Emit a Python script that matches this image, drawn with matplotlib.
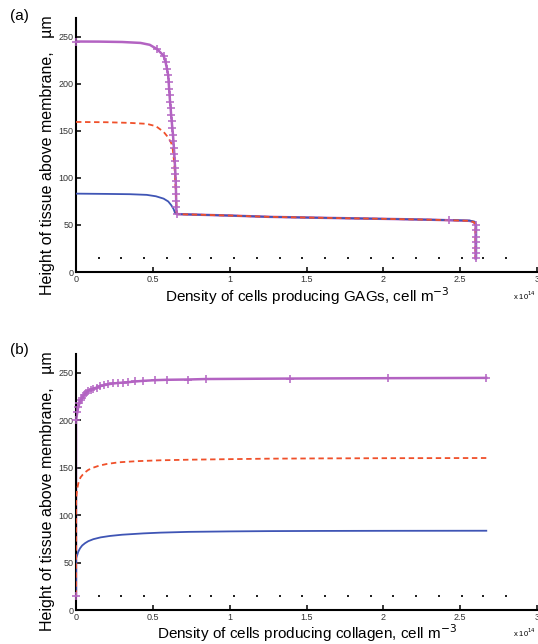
import matplotlib
matplotlib.use("Agg")
import matplotlib.pyplot as plt

plt.rcParams['font.family'] = ['Liberation Sans', 'DejaVu Sans']

# ---------------- data (x in units of 1e14 cell m^-3, y in um) ----------------
# Panel (a): GAG-producing cells
a_mag_x = [0, 0.15, 0.30, 0.42, 0.48, 0.527, 0.57, 0.583, 0.592, 0.600, 0.603, 0.606,
           0.609, 0.612, 0.616, 0.619, 0.623, 0.627, 0.631, 0.634, 0.637, 0.640, 0.642,
           0.645, 0.647, 0.649, 0.650, 0.651, 0.652, 0.653, 0.655, 0.66, 1.0, 1.26,
           1.6, 2.0, 2.3, 2.56, 2.59, 2.60, 2.60]
a_mag_y = [245, 244.9, 244.5, 243.5, 241.5, 237, 230, 223, 216, 209, 202, 195,
           188, 181, 174, 167, 160, 153, 146, 139, 132, 125, 118,
           111, 104, 97, 90, 83, 76, 69, 62, 61.5, 60.0, 58.6,
           57.6, 56.5, 55.6, 54.4, 53, 50, 14.5]
a_mk_x = [0, 0.527, 0.57, 0.583, 0.592, 0.600, 0.603, 0.606, 0.609, 0.612, 0.616,
          0.619, 0.623, 0.627, 0.631, 0.634, 0.637, 0.640, 0.642, 0.645, 0.647,
          0.649, 0.650, 0.651, 0.652, 0.653, 0.655, 2.43, 2.60, 2.60, 2.60, 2.60,
          2.60, 2.60, 2.60]
a_mk_y = [245, 237, 230, 223, 216, 209, 202, 195, 188, 181, 174,
          167, 160, 153, 146, 139, 132, 125, 118, 111, 104,
          97, 90, 83, 76, 69, 62, 55, 49.8, 44.5, 37.4, 32,
          25, 19.8, 14.5]
a_red_x = [0, 0.2, 0.35, 0.46, 0.52, 0.57, 0.60, 0.62, 0.63, 0.64, 0.65, 0.655,
           0.66, 1.0, 1.26, 1.6, 2.0, 2.3, 2.56, 2.59, 2.60, 2.60]
a_red_y = [159.5, 159.2, 158.5, 157.5, 155, 149, 143, 137, 130, 115, 85, 62,
           61.5, 60.0, 58.6, 57.6, 56.5, 55.6, 54.4, 53, 50, 14.5]
a_blue_x = [0, 0.2, 0.35, 0.46, 0.52, 0.57, 0.60, 0.62, 0.635, 0.645, 0.66, 1.0,
            1.26, 1.6, 2.0, 2.3, 2.56, 2.595, 2.605, 2.605]
a_blue_y = [83.3, 83.0, 82.7, 82.0, 80.5, 78, 75, 71, 67, 62.5, 61.5, 60.0,
            58.6, 57.6, 56.5, 55.6, 54.7, 53.5, 50, 14.5]

# Panel (b): collagen-producing cells
b_mag_x = [0, 0, 0.0087, 0.015, 0.022, 0.030, 0.041, 0.052, 0.065, 0.080, 0.095,
           0.113, 0.134, 0.156, 0.182, 0.210, 0.243, 0.275, 0.308, 0.340, 0.384,
           0.438, 0.514, 0.590, 0.731, 0.844, 1.39, 2.03, 2.67]
b_mag_y = [15, 200, 209, 214.3, 217.8, 221.3, 223.7, 226.6, 229, 231.1, 232.5,
           233.6, 234.6, 236, 237.1, 238.1, 238.9, 239.5, 239.9, 240.3, 241,
           241.7, 242.4, 242.8, 243.1, 243.6, 244.1, 244.5, 244.8]
b_red_x = [0, 0, 0.002, 0.004, 0.008, 0.015, 0.022, 0.03, 0.045, 0.06, 0.08, 0.11,
           0.15, 0.2, 0.28, 0.4, 0.55, 0.73, 1.0, 1.25, 1.6, 2.0, 2.67]
b_red_y = [15, 112, 118, 122.5, 128, 133.5, 137, 140, 143, 145.3, 147.8, 150,
           152.2, 154, 155.8, 157, 157.9, 158.5, 159.1, 159.6, 159.9, 160.1, 160.3]
b_blue_x = [0, 0, 0.004, 0.009, 0.015, 0.026, 0.04, 0.059, 0.08, 0.113, 0.16, 0.221,
            0.3, 0.438, 0.55, 0.731, 1.0, 1.25, 1.6, 2.0, 2.67]
b_blue_y = [15, 54.4, 56.3, 58.5, 61.5, 65, 68, 70.5, 72.6, 74.7, 76.6, 78.1,
            79.4, 80.8, 81.6, 82.4, 82.9, 83.2, 83.4, 83.5, 83.6]

# reference dotted level
dot_x = [0.15, 0.29, 0.44, 0.59, 0.74, 0.88, 1.03, 1.18, 1.33, 1.47, 1.62, 1.77,
         1.92, 2.06, 2.21, 2.36, 2.51, 2.65, 2.80]
dot_y = [14.5] * len(dot_x)

xticks = [0, 0.5, 1, 1.5, 2, 2.5, 3]
xticklabels = ['0', '0.5', '1', '1.5', '2', '2.5', '3']
yticks = [0, 50, 100, 150, 200, 250]
yticklabels = ['0', '50', '100', '150', '200', '250']

ylabel = 'Height of tissue above membrane,   \u00b5m'
xlabel_a = 'Density of cells producing GAGs, cell m$^{-3}$'
xlabel_b = 'Density of cells producing collagen, cell m$^{-3}$'

MAG = '#b363c2'
RED = '#f0502a'
BLUE = '#3f55b5'

W, H = 538, 644
fig = plt.figure(figsize=(W / 100, H / 100), dpi=100)


def make_axes(top_px, bot_px):
    left, right = 76, 537
    return fig.add_axes([left / W, 1 - bot_px / H, (right - left) / W, (bot_px - top_px) / H])


def style(ax):
    ax.set_xlim(0, 3)
    ax.set_ylim(0, 270)
    for s in ['top', 'right']:
        ax.spines[s].set_visible(False)
    for s in ['left', 'bottom']:
        ax.spines[s].set_linewidth(1.5)
    ax.set_xticks(xticks)
    ax.set_xticklabels(xticklabels)
    ax.set_yticks(yticks)
    ax.set_yticklabels(yticklabels)
    ax.tick_params(direction='in', length=3.5, width=1.1, labelsize=6.5,
                   labelcolor='#333333', pad=2)
    for t in ax.get_xticklabels() + ax.get_yticklabels():
        t.set_clip_on(False)


def panel(ax, mx, my, rx, ry, bx, by, mkx, mky):
    ax.plot(mx, my, color=MAG, lw=1.8, zorder=2, solid_joinstyle='round')
    ax.plot(bx, by, color=BLUE, lw=1.3, zorder=3)
    ax.plot(rx, ry, color=RED, lw=1.3, ls=(0, (3, 2)), zorder=4)
    ax.plot(mkx, mky, ls='none', marker='+', ms=6, mew=1.1, color=MAG, zorder=5,
            clip_on=False)
    ax.plot(dot_x, dot_y, ls='none', marker='s', ms=1.6, mew=0, color='#222222', zorder=1)
    style(ax)


ax1 = make_axes(18, 272)
panel(ax1, a_mag_x, a_mag_y, a_red_x, a_red_y, a_blue_x, a_blue_y, a_mk_x, a_mk_y)
ax2 = make_axes(354, 610)
panel(ax2, b_mag_x, b_mag_y, b_red_x, b_red_y, b_blue_x, b_blue_y, b_mag_x[1:], b_mag_y[1:])
ax2.plot([0], [15], ls='none', marker='+', ms=6, mew=1.1, color=MAG, zorder=5, clip_on=False)

# labels
fig.text(19 / W, 1 - 16 / H, '(a)', fontsize=11, ha='center', va='center')
fig.text(19 / W, 1 - 350 / H, '(b)', fontsize=11, ha='center', va='center')
fig.text(48 / W, 1 - 155 / H, ylabel, fontsize=11.5, rotation=90, ha='center', va='center')
fig.text(48 / W, 1 - 491 / H, ylabel, fontsize=11.5, rotation=90, ha='center', va='center')
fig.text(307 / W, 1 - 296 / H, xlabel_a, fontsize=11, ha='center', va='center')
fig.text(307 / W, 1 - 633 / H, xlabel_b, fontsize=11, ha='center', va='center')
fig.text(513 / W, 1 - 296 / H, 'x 10$^{14}$', fontsize=5.5, ha='left', va='center')
fig.text(513 / W, 1 - 633 / H, 'x 10$^{14}$', fontsize=5.5, ha='left', va='center')

fig.savefig('out.png', dpi=100)
